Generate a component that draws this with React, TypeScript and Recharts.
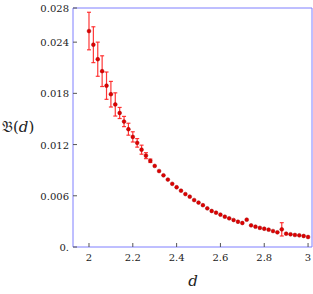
import React from "react";
import { ScatterChart, Scatter, XAxis, YAxis, ErrorBar, ReferenceLine } from "recharts";

const dValues = [
  2.0, 2.02, 2.04, 2.06, 2.08, 2.1, 2.12, 2.14, 2.16, 2.18, 2.2, 2.22, 2.24, 2.26, 2.28, 2.3, 2.32, 2.34,
  2.36, 2.38, 2.4, 2.42, 2.44, 2.46, 2.48, 2.5, 2.52, 2.54, 2.56, 2.58, 2.6, 2.62, 2.64, 2.66, 2.68, 2.7,
  2.72, 2.74, 2.76, 2.78, 2.8, 2.82, 2.84, 2.86, 2.88, 2.9, 2.92, 2.94, 2.96, 2.98, 3.0,
];
const bValues = [
  0.0253, 0.0237, 0.022, 0.0206, 0.0189, 0.0179, 0.0167, 0.0157, 0.0147, 0.0138, 0.0129, 0.0122, 0.0114,
  0.0107, 0.0101, 0.0095, 0.0089, 0.0084, 0.0079, 0.0074, 0.007, 0.0066, 0.0062, 0.0059, 0.0055, 0.0052,
  0.0049, 0.00453, 0.00422, 0.00402, 0.00379, 0.00355, 0.00336, 0.00316, 0.00296, 0.00281, 0.0032, 0.00254,
  0.00238, 0.00224, 0.00214, 0.00203, 0.00187, 0.00172, 0.00207, 0.00156, 0.00149, 0.00141, 0.00137,
  0.00129, 0.00117,
];
const bErrors = [
  0.0022, 0.0021, 0.002, 0.0018, 0.0016, 0.0015, 0.00136, 0.00065, 0.0006, 0.0007, 0.0006, 0.0005, 0.00053,
  0.00035, 0.0002, 0, 0, 0, 0, 0, 0, 0, 0, 0, 0, 0, 0, 0, 0, 0, 0, 0, 0, 0, 0, 0, 0, 0, 0, 0, 0, 0, 0, 0,
  0.00078, 0, 0, 0, 0, 0, 0,
];
const xTicks = [2, 2.2, 2.4, 2.6, 2.8, 3];
const yTicks = [0, 0.006, 0.012, 0.018, 0.024, 0.028];
const xDomain = [1.927, 3.018];
const yDomain = [0, 0.028];

const data = dValues.map((d, i) => ({ d, b: bValues[i], err: bErrors[i] }));

const FRAME = "#7f7fff";
const TICK = "#555";
const FONT = "DejaVu Serif";

const XTick = (props: any) => {
  const { x, y, payload } = props;
  return (
    <g>
      <line x1={x} x2={x} y1={y} y2={y - 4} stroke={TICK} strokeWidth={1} />
      <text x={x} y={y + 14} textAnchor="middle" fontFamily={FONT} fontSize={10} fill="#222">
        {String(payload.value)}
      </text>
    </g>
  );
};

const YTick = (props: any) => {
  const { x, y, payload } = props;
  const v = payload.value as number;
  const label = v === 0 ? "0." : v.toFixed(3);
  return (
    <g>
      <line x1={x} x2={x + 4} y1={y} y2={y} stroke={TICK} strokeWidth={1} />
      <text x={x - 4} y={y + 4} textAnchor="end" fontFamily={FONT} fontSize={10} fill="#222">
        {label}
      </text>
    </g>
  );
};

const Dot = (props: any) => {
  const { cx, cy } = props;
  return <circle cx={cx} cy={cy} r={1.9} fill="#e00000" stroke="#a00000" strokeWidth={0.5} />;
};

export default function App() {
  return (
    <div style={{ position: "absolute", left: 0, top: 0 }}>
      <ScatterChart width={313} height={294} margin={{ top: 8, right: 1, bottom: 0, left: 0 }}>
        <XAxis
          dataKey="d"
          type="number"
          domain={xDomain}
          ticks={xTicks}
          interval={0}
          allowDataOverflow
          height={47}
          axisLine={{ stroke: FRAME }}
          tickLine={false}
          tickSize={0}
          tickMargin={0}
          tick={(p: any) => <XTick {...p} />}
          label={{
            content: () => (
              <text x={193} y={286} textAnchor="middle" fontFamily={FONT} fontSize={15} fontStyle="italic" fill="#222">
                d
              </text>
            ),
          }}
        />
        <YAxis
          dataKey="b"
          type="number"
          domain={yDomain}
          ticks={yTicks}
          interval={0}
          allowDataOverflow
          width={73}
          axisLine={{ stroke: FRAME }}
          tickLine={false}
          tickSize={0}
          tickMargin={0}
          tick={(p: any) => <YTick {...p} />}
          label={{
            content: () => (
              <text x={2} y={132} fontFamily={FONT} fontSize={15} fill="#222">
                <tspan>𝔅</tspan>
                <tspan>(</tspan>
                <tspan fontStyle="italic">d</tspan>
                <tspan>)</tspan>
              </text>
            ),
          }}
        />
        <ReferenceLine y={yDomain[1]} stroke={FRAME} strokeWidth={1} ifOverflow="extendDomain" />
        <ReferenceLine x={xDomain[1]} stroke={FRAME} strokeWidth={1} ifOverflow="extendDomain" />
        <Scatter data={data} dataKey="b" shape={(p: any) => <Dot {...p} />} isAnimationActive={false}>
          <ErrorBar dataKey="err" direction="y" width={2} stroke="#ff2020" strokeWidth={1.2} strokeOpacity={0.9} />
        </Scatter>
      </ScatterChart>
    </div>
  );
}
